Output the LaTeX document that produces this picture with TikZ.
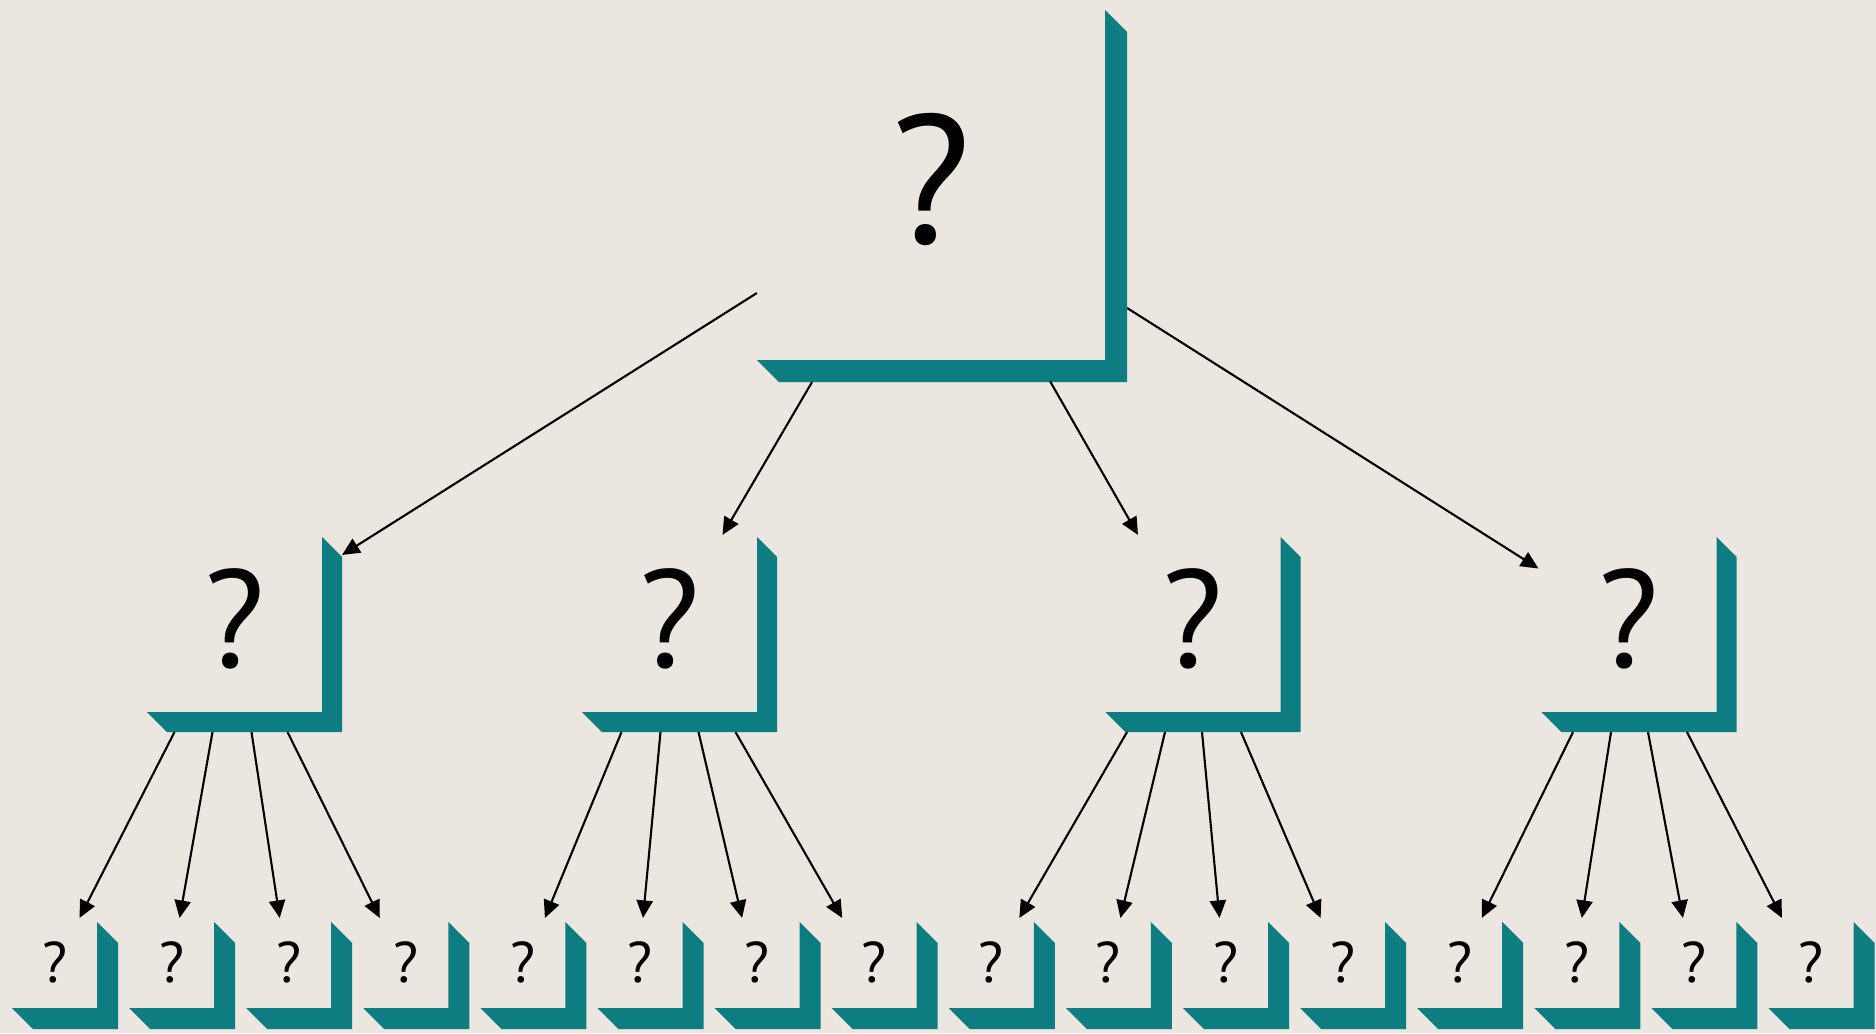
\documentclass[tikz,border=0pt]{standalone}
\usepackage{fontspec}
\setmainfont{PT Sans}
\usetikzlibrary{calc}
\usetikzlibrary{arrows.meta}
\definecolor{paper}{RGB}{235,231,224}
\definecolor{petrol}{RGB}{13,125,129}
\tikzset{
  box/.style={rectangle, inner sep=0pt, outer sep=0pt},
  bigbox/.style={box, minimum width=3.48cm, minimum height=3.5cm, font=\fontsize{52}{52}\selectfont, text depth=0.14cm},
  midbox/.style={box, minimum size=1.75cm, font=\fontsize{39.5}{39.5}\selectfont, text depth=0.12cm},
  smallbox/.style={box, minimum width=0.85cm, minimum height=0.86cm, font=\fontsize{16.3}{16.3}\selectfont, text depth=0.06cm},
  ledge/.style={fill=petrol},
  link/.style={-{Triangle[length=5pt,width=4.6pt]}, line width=0.6pt},
}

\begin{document}
\begin{tikzpicture}[x=0.01cm, y=-0.01cm]
  \fill[paper] (0,0) rectangle (1876,1033);
  \useasboundingbox (0,0) rectangle (1876,1033);

  % the boxes, one level after the other
  \node[bigbox] (root) at (931,185) {?};
  \node[midbox] (m1) at (234.5,624.5) {?};
  \node[midbox] (m2) at (669.5,624.5) {?};
  \node[midbox] (m3) at (1193,624.5) {?};
  \node[midbox] (m4) at (1629,624.5) {?};
  \foreach \k in {1,...,16} \node[smallbox] (b\k) at ({54.5+117.1*(\k-1)},965) {?};

  % corner ledges
  \foreach \n/\t in {root/22, m1/20, m2/20, m3/20, m4/20, b1/21, b2/21, b3/21, b4/21, b5/21, b6/21, b7/21, b8/21, b9/21, b10/21, b11/21, b12/21, b13/21, b14/21, b15/21, b16/21}
    \fill[ledge] (\n.south west) -- (\n.south east) -- (\n.north east) -- ($(\n.north east)+(\t,\t)$) -- ($(\n.south east)+(\t,\t)$) -- ($(\n.south west)+(\t,\t)$) -- cycle;

  \draw[link] ($(root.west)+(0,108)$) -- ($(m1.north east)+(20,18)$);
  \draw[link] ($(root.south)+(-119,22)$) -- ($(m2.north)+(53,-2)$);
  \draw[link] ($(root.south)+(119,21)$) -- ($(m3.north)+(-55,-2)$);
  \draw[link] ($(root.east)+(22,123)$) -- ($(m4.west)+(-3,-56)$);

  \foreach \m/\b/\dx/\ex in {1/1/-60/25, 1/2/-22/8, 1/3/17/-9, 1/4/53/-26,
                             2/5/-48/22, 2/6/-9/3, 2/7/29/-15, 2/8/66/-32,
                             3/9/-66/28, 3/10/-28/12, 3/11/9/-6, 3/12/48/-22,
                             4/13/-56/22, 4/14/-18/5, 4/15/19/-11, 4/16/58/-29}
    \draw[link] ($(m\m.south)+(\dx,20)$) -- ($(b\b.north)+(\ex,-4)$);

\end{tikzpicture}
\end{document}
